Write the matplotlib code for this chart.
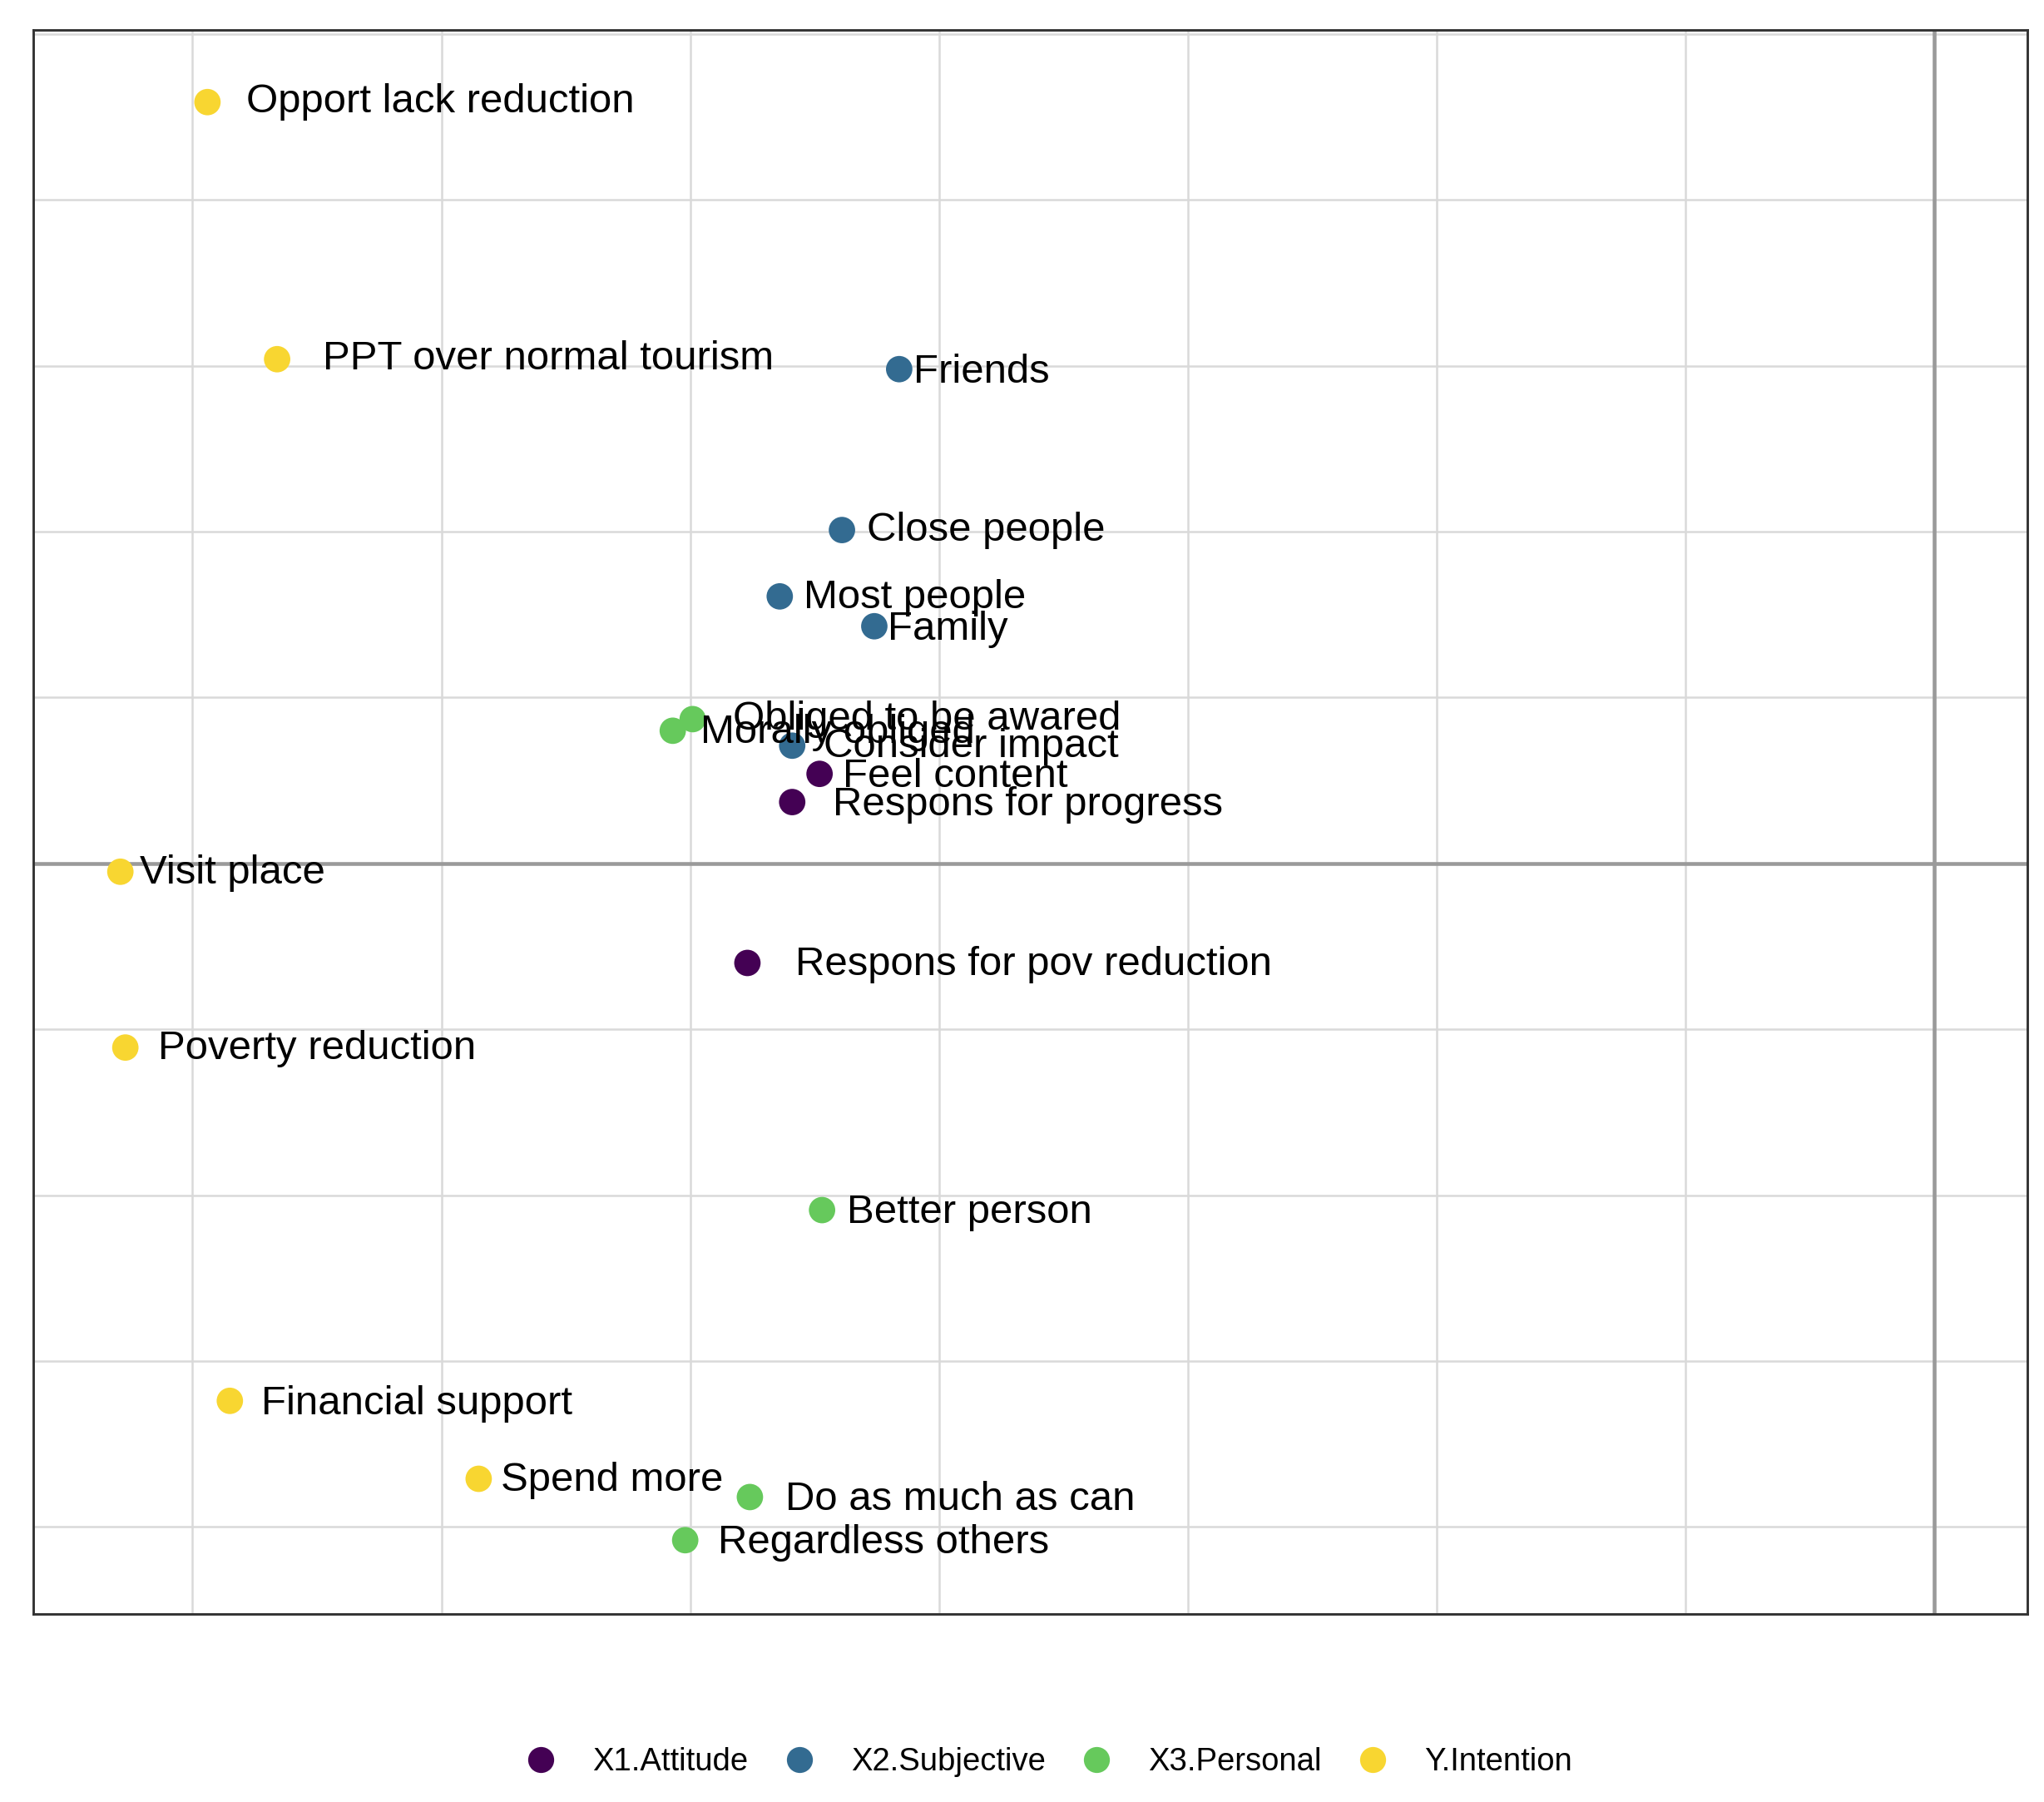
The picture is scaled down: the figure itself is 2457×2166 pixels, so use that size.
import numpy as np
import matplotlib.pyplot as plt
from matplotlib.lines import Line2D

plt.rcParams['font.family'] = ['Liberation Sans', 'DejaVu Sans']

# item coordinates (x = 0 at the dark vertical line, y = 0 at the dark horizontal line)
items = ['Opport lack reduction', 'PPT over normal tourism', 'Friends', 'Close people',
         'Most people', 'Family', 'Obliged to be awared', 'Morally obliged',
         'Consider impact', 'Feel content', 'Respons for progress', 'Visit place',
         'Respons for pov reduction', 'Poverty reduction', 'Better person',
         'Financial support', 'Spend more', 'Do as much as can', 'Regardless others']
groups = ['Y.Intention', 'Y.Intention', 'X2.Subjective', 'X2.Subjective',
          'X2.Subjective', 'X2.Subjective', 'X3.Personal', 'X3.Personal',
          'X2.Subjective', 'X1.Attitude', 'X1.Attitude', 'Y.Intention',
          'X1.Attitude', 'Y.Intention', 'X3.Personal',
          'Y.Intention', 'Y.Intention', 'X3.Personal', 'X3.Personal']
x_vals = [-6.94, -6.66, -4.16, -4.39, -4.64, -4.26, -4.99, -5.07, -4.59, -4.48, -4.59,
          -7.29, -4.77, -7.27, -4.47, -6.85, -5.85, -4.76, -5.02]
y_vals = [4.59, 3.04, 2.98, 2.01, 1.61, 1.43, 0.87, 0.80, 0.71, 0.54, 0.37,
          -0.05, -0.60, -1.11, -2.09, -3.24, -3.71, -3.82, -4.08]

group_names = ['X1.Attitude', 'X2.Subjective', 'X3.Personal', 'Y.Intention']
group_colors = ['#440154', '#336B91', '#66C95C', '#F8D631']

# label offsets in points (how far the text sits from its dot)
label_dx = [11.3, 13.2, 4.1, 7.1, 6.8, 3.8, 11.7, 7.9, 9.0, 6.8, 11.7,
            5.6, 13.9, 9.4, 7.1, 9.0, 6.4, 10.2, 9.4]
label_dy = [0, 0, -0.8, 0, -0.4, -0.8, 0, -0.4, -0.4, -0.8, -0.8,
            -0.4, -0.4, -0.4, -0.8, -0.8, -0.4, -0.8, -0.8]

fig = plt.figure(figsize=(2457 / 300, 2166 / 300), dpi=300)
ax = fig.add_axes([40 / 2457, 226 / 2166, 2397 / 2457, 1904 / 2166])

ax.set_xlim(-7.64, 0.374)
ax.set_ylim(-4.525, 5.025)

# grid
ax.set_xticks(np.arange(-7, 1, 1))
ax.set_yticks(np.arange(-4, 6, 1))
ax.grid(True, color='#D9D9D9', linewidth=0.6)
ax.set_axisbelow(True)
ax.tick_params(length=0, labelbottom=False, labelleft=False)

ax.axhline(0, color='#9A9A9A', linewidth=1.1, zorder=1)
ax.axvline(0, color='#9A9A9A', linewidth=1.1, zorder=1)

for sp in ax.spines.values():
    sp.set_color('#333333')
    sp.set_linewidth(0.7)

x_arr = np.array(x_vals)
y_arr = np.array(y_vals)
g_arr = np.array(groups)
for name, col in zip(group_names, group_colors):
    m = g_arr == name
    ax.scatter(x_arr[m], y_arr[m], s=58, color=col, edgecolors='none', zorder=3)

for i, lab in enumerate(items):
    ax.annotate(lab, (x_vals[i], y_vals[i]), xytext=(label_dx[i], label_dy[i]),
                textcoords='offset points', ha='left', va='center',
                fontsize=11.8, color='black', zorder=4)

handles = [Line2D([0], [0], marker='o', linestyle='none', markersize=7.5,
                  markerfacecolor=c, markeredgecolor='none') for c in group_colors]
fig.legend(handles, group_names, loc='center', bbox_to_anchor=(0.513, 0.022),
           ncol=4, frameon=False, fontsize=9.2, handlelength=1.0,
           handletextpad=1.12, columnspacing=1.1)

fig.savefig('out.png', dpi=300, facecolor='white')
